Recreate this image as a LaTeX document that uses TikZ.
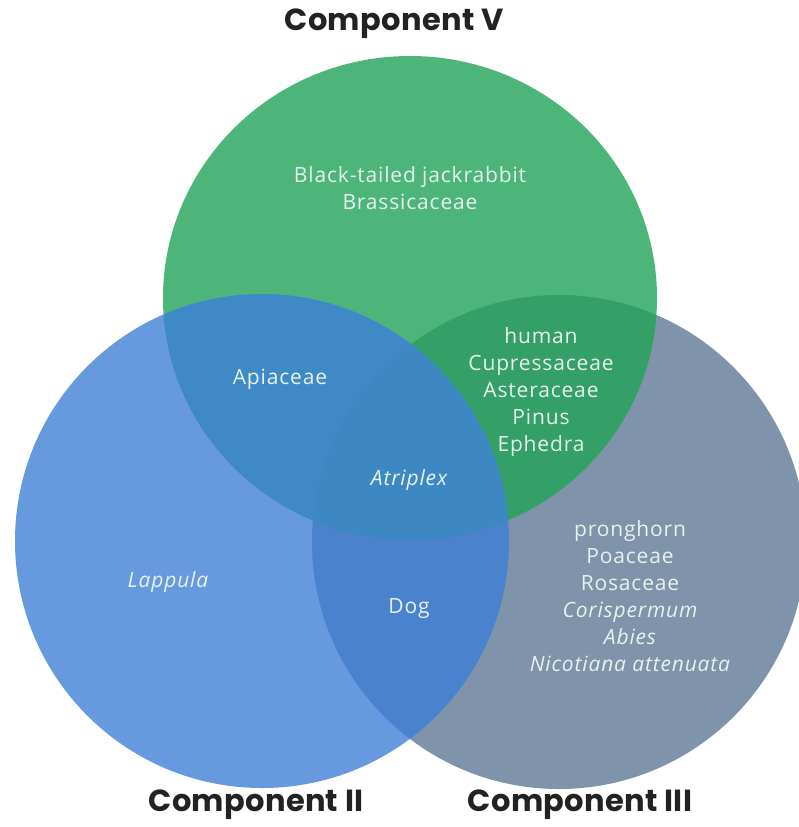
\documentclass[tikz,border=0pt]{standalone}
\usepackage{fontspec}
\setmainfont[LetterSpace=4]{Open Sans}
\newfontfamily\titlefont[LetterSpace=1]{Poppins}
\definecolor{cgreen}{HTML}{4DB57A}
\definecolor{cblue}{HTML}{6699DD}
\definecolor{cgray}{HTML}{7F93AA}
\definecolor{cgb}{HTML}{3F89C6}
\definecolor{cgg}{HTML}{34A067}
\definecolor{cbg}{HTML}{4A82CE}
\definecolor{ctri}{HTML}{3D87C2}
\definecolor{ctitle}{HTML}{222222}
\definecolor{ctxt}{HTML}{E6F2EE}
\tikzset{
  lbl/.style={text=ctxt, font=\fontsize{21}{27}\selectfont, align=center, inner sep=0pt},
  ttl/.style={text=ctitle, font=\titlefont\bfseries\fontsize{30.5}{33}\selectfont, inner sep=0pt}
}
\begin{document}
\begin{tikzpicture}[x=1pt,y=-1pt]
\useasboundingbox (0,0) rectangle (799,827);
\clip (0,0) rectangle (799,827);
\def\GreenPath{(410,298) ellipse [x radius=247, y radius=242]}
\def\BluePath{(262,541) circle [radius=247]}
\def\GrayPath{(559,542) circle [radius=247]}
\fill[cgray] \GrayPath;
\fill[cgreen] \GreenPath;
\fill[cblue] \BluePath;
\begin{scope}
  \clip \BluePath;
  \fill[cbg] \GrayPath;
\end{scope}
\begin{scope}
  \clip \GreenPath;
  \fill[cgg] \GrayPath;
\end{scope}
\begin{scope}
  \clip \GreenPath;
  \fill[cgb] \BluePath;
\end{scope}
\begin{scope}
  \clip \GreenPath;
  \clip \BluePath;
  \fill[ctri] \GrayPath;
\end{scope}
\node[ttl] (tV) at (394,24) {Component V};
\node[ttl] (tII) at (256,805) {Component II};
\node[ttl] (tIII) at (580,805) {Component III};
\node[lbl] (gonly) at (410,188) {Black-tailed jackrabbit\\Brassicaceae};
\node[lbl] (gg) at (541,392) {human\\Cupressaceae\\Asteraceae\\Pinus\\Ephedra};
\node[lbl] (gb) at (280,379) {Apiaceae};
\node[lbl] (tri) at (409,480) {\itshape Atriplex};
\node[lbl] (bonly) at (168,582) {\itshape Lappula};
\node[lbl] (bg) at (409,609) {Dog};
\node[lbl] (grayonly) at (630,596) {pronghorn\\Poaceae\\Rosaceae\\\itshape Corispermum\\\itshape Abies\\\itshape Nicotiana attenuata};
\end{tikzpicture}
\end{document}
